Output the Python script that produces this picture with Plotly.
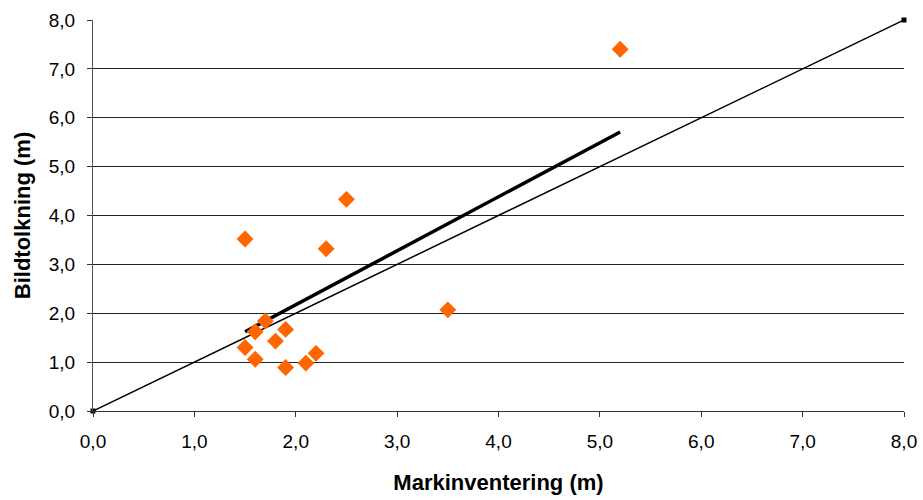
import plotly.graph_objects as go

# Field inventory (x) vs. image interpretation (y), metres
markinventering = [1.5, 5.2, 2.5, 2.3, 3.5, 1.5, 1.6, 1.7, 1.8, 1.9, 1.6, 1.9, 2.1, 2.2]
bildtolkning = [3.52, 7.40, 4.33, 3.32, 2.07, 1.30, 1.62, 1.84, 1.43, 1.67, 1.06, 0.89, 0.98, 1.18]

# 1:1 reference line
ref_x = [0.0, 8.0]
ref_y = [0.0, 8.0]

# Fitted regression line endpoints
fit_x = [1.5, 5.2]
fit_y = [1.62, 5.71]

tick_vals = [0, 1, 2, 3, 4, 5, 6, 7, 8]

font_family = "Liberation Sans, Arial, sans-serif"

fig = go.Figure()

fig.add_trace(go.Scatter(
    x=ref_x, y=ref_y, mode="lines+markers",
    line=dict(color="black", width=1.5),
    marker=dict(symbol="square", size=5, color="black"),
    cliponaxis=False, showlegend=False, hoverinfo="skip",
))

fig.add_trace(go.Scatter(
    x=fit_x, y=fit_y, mode="lines",
    line=dict(color="black", width=3.5),
    showlegend=False, hoverinfo="skip",
))

fig.add_trace(go.Scatter(
    x=markinventering, y=bildtolkning, mode="markers",
    marker=dict(symbol="diamond", size=13, color="#FF6600"),
    cliponaxis=False, showlegend=False,
))

fig.update_layout(
    width=923, height=500,
    margin=dict(l=93, r=19, t=20, b=89, autoexpand=False),
    paper_bgcolor="white", plot_bgcolor="white",
    separators=", ",
    font=dict(family=font_family, size=19, color="black"),
    xaxis=dict(
        range=[0, 8], tickvals=tick_vals, tickformat=".1f",
        automargin=False,
        showgrid=False, zeroline=False,
        showline=True, linecolor="#333333", linewidth=1,
        ticks="outside", ticklen=5, tickcolor="#333333",
        ticklabelstandoff=8,
        title=dict(text="<b>Markinventering (m)</b>", font=dict(size=22), standoff=23),
    ),
    yaxis=dict(
        range=[0, 8], tickvals=tick_vals, tickformat=".1f",
        automargin=False,
        showgrid=True, gridcolor="#222222", gridwidth=1,
        zeroline=False,
        showline=True, linecolor="#555555", linewidth=1,
        ticks="outside", ticklen=5, tickcolor="#333333",
        ticklabelstandoff=8,
        title=dict(text="<b>Bildtolkning (m)</b>", font=dict(size=22), standoff=12),
    ),
)

fig.write_html("out.html")
